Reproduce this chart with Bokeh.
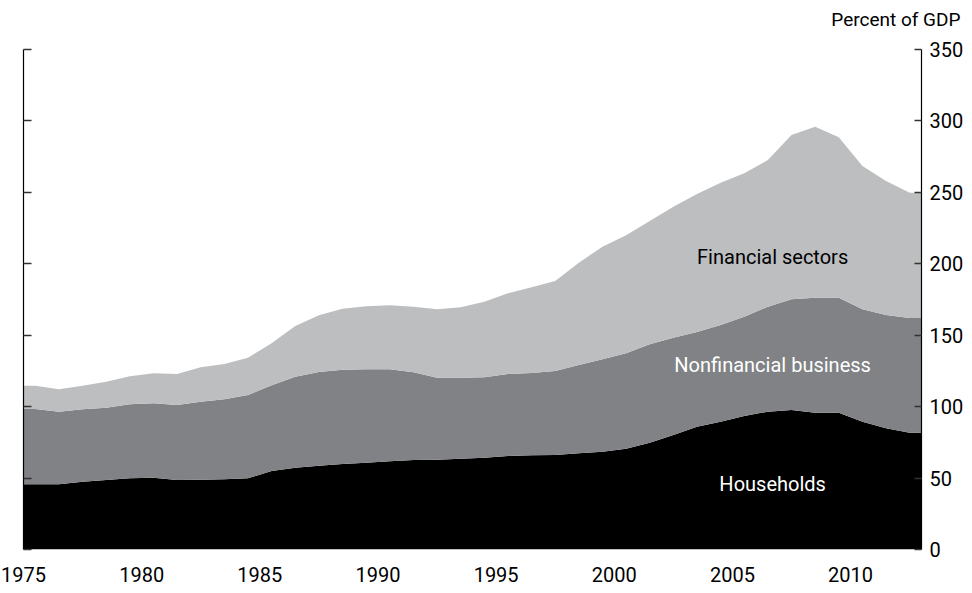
from bokeh.plotting import figure
from bokeh.models import (Range1d, LinearAxis, FixedTicker, ColumnDataSource, Label,
                          Title, CustomLabelingPolicy)
from bokeh.embed import file_html
from bokeh.resources import INLINE

# ---- data (percent of GDP), annual 1975-2012 ----
years = list(range(1975, 2013))
households = [45.6, 45.6, 47.5, 48.7, 49.8, 50.3, 48.7, 48.9, 49.1, 49.8,
              55.0, 57.3, 58.7, 59.8, 60.8, 61.7, 62.6, 62.9, 63.6, 64.3,
              65.4, 65.9, 66.1, 67.3, 68.5, 70.5, 74.8, 80.2, 86.0, 89.5,
              93.4, 96.5, 97.7, 95.8, 95.8, 89.5, 84.8, 81.8]
nonfinancial = [52.8, 50.9, 50.6, 50.6, 51.8, 52.0, 52.5, 54.6, 56.0, 58.4,
                59.9, 63.7, 65.5, 66.1, 65.3, 64.4, 61.4, 57.4, 56.7, 56.2,
                57.4, 57.6, 58.8, 61.8, 64.6, 66.8, 68.8, 68.1, 66.3, 67.6,
                69.6, 73.5, 77.4, 80.5, 80.5, 78.6, 79.3, 80.2]
financial = [16.3, 15.6, 16.6, 18.2, 19.6, 21.0, 21.6, 24.0, 24.8, 26.1,
             29.4, 35.4, 39.8, 42.7, 44.1, 44.8, 46.0, 47.8, 49.2, 53.0,
             56.5, 60.0, 63.1, 71.7, 78.9, 82.7, 86.4, 91.7, 96.5, 99.7,
             100.3, 102.6, 115.0, 119.7, 112.2, 100.3, 93.8, 87.8]

series_names = ["Households", "Nonfinancial business", "Financial sectors"]
x_ticks = [1975, 1980, 1985, 1990, 1995, 2000, 2005, 2010]
y_ticks = [0, 50, 100, 150, 200, 250, 300, 350]
unit_label = "Percent of GDP"

colors = ["#000000", "#808285", "#BCBEC0"]
label_colors = ["#FFFFFF", "#FFFFFF", "#000000"]
FONT = "Roboto"

# plot each annual value at mid-year; hold first/last value to the range edges
x_start, x_end = years[0], years[-1] + 1
xs = [x_start] + [y + 0.5 for y in years] + [x_end]
def pad(v):
    return [v[0]] + list(v) + [v[-1]]

source = ColumnDataSource(dict(x=xs, h=pad(households), n=pad(nonfinancial), f=pad(financial)))

p = figure(width=972, height=593,
           x_range=Range1d(x_start, x_end), y_range=Range1d(0, 350),
           output_backend="svg", toolbar_location=None,
           y_axis_location="right",
           min_border_left=23, min_border_right=51,
           min_border_top=49, min_border_bottom=44)

p.varea_stack(["h", "n", "f"], x="x", source=source, color=colors)

p.xgrid.visible = False
p.ygrid.visible = False
p.outline_line_color = None
p.background_fill_color = "white"
p.border_fill_color = "white"

# bottom axis
xa = p.xaxis[0]
xa.ticker = FixedTicker(ticks=x_ticks)
xa.axis_line_color = None
xa.major_tick_line_color = None
xa.minor_tick_line_color = None
xa.major_label_standoff = 11
xa.major_label_text_font = FONT
xa.major_label_text_font_size = "20px"
xa.major_label_text_color = "#000000"

# right axis
ya = p.yaxis[0]
ya.ticker = FixedTicker(ticks=y_ticks)
ya.axis_line_color = "#000000"
ya.axis_line_width = 1.2
ya.major_tick_in = 7
ya.major_tick_out = 0
ya.major_tick_line_color = "#333333"
ya.major_tick_line_width = 1.3
ya.minor_tick_line_color = None
ya.major_label_standoff = 8
ya.major_label_text_font = FONT
ya.major_label_text_font_size = "20px"
ya.major_label_text_color = "#000000"

# left axis (line and ticks only, no labels)
no_labels = CustomLabelingPolicy(code="""
    for (const i of Array.from(indices)) {
        if (indices.unset) { indices.unset(i) } else { indices.set(i, false) }
    }
    return indices
""")
la = LinearAxis(ticker=FixedTicker(ticks=y_ticks), major_label_policy=no_labels)
la.axis_line_color = "#000000"
la.axis_line_width = 1.2
la.major_tick_in = 8
la.major_tick_out = 0
la.major_tick_line_color = "#333333"
la.major_tick_line_width = 1.3
la.minor_tick_line_color = None
la.major_label_text_font_size = "0px"
la.major_label_standoff = 0
p.add_layout(la, "left")

# unit label (above the right axis)
p.add_layout(Title(text=unit_label, align="right", offset=-39, standoff=0,
                   padding=dict(top=0, right=0, bottom=19, left=0),
                   text_font=FONT, text_font_size="19px", text_font_style="normal",
                   text_color="#000000"), "above")

# series labels
label_x = [2006.7, 2006.7, 2006.7]
label_y = [45.8, 129.5, 205.0]
for name, lx, ly, c in zip(series_names, label_x, label_y, label_colors):
    p.add_layout(Label(x=lx, y=ly, text=name, text_align="center", text_baseline="middle",
                       text_font=FONT, text_font_size="20px", text_color=c))

open("out.html", "w").write(file_html(p, INLINE))
